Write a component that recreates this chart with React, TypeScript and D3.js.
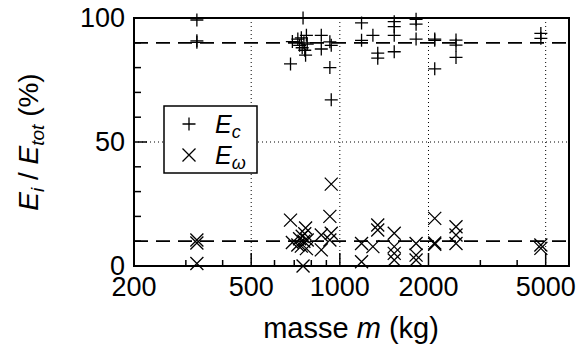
import React from "react";
import * as d3 from "d3";

// data: mass (kg), E_c share (%), E_omega share (%)
const masses = [327, 327, 327, 680, 690, 720, 730, 740, 745, 750, 755, 760, 765, 770, 775, 865, 865, 925, 925, 935, 935, 1185, 1185, 1295, 1345, 1345, 1530, 1530, 1530, 1530, 1815, 1815, 1815, 2100, 2100, 2100, 2480, 2480, 2480, 4815, 4815];
const ecValues = [99.2, 90.8, 90.2, 81.5, 90.5, 91.5, 89, 92, 88, 100, 90, 87, 85, 93, 89.5, 93, 87.5, 90.4, 80, 67, 89, 98, 91, 93, 85.8, 83.8, 98.5, 96.5, 93, 86.4, 99.5, 97.5, 91.5, 91.5, 91, 79.5, 91.1, 89.1, 84.1, 93.8, 91.8];
const ewValues = [1, 9.3, 10.5, 18.5, 9.5, 8.5, 11, 8, 12, 0, 10, 13, 15.3, 7, 10.5, 6.5, 12.5, 10.5, 20, 33, 13.2, 1.7, 9.1, 7.8, 14.5, 16.5, 2.4, 5.1, 7.8, 13.2, 2.4, 4.4, 9.1, 8.8, 9.3, 19.2, 9.1, 12.5, 15.8, 7.1, 8.5];

const xMajorTicks = [200, 500, 1000, 2000, 5000];
const xMinorTicks = [300, 400, 600, 700, 800, 900, 3000, 4000];
const yMajorTicks = [0, 50, 100];
const yMinorTicks = [10, 20, 30, 40, 60, 70, 80, 90];
const xGrid = [500, 1000, 2000, 5000];
const yGrid = [50];
const refLines = [90, 10];

const W = 581, H = 349;
const L = 134, R = 569, T = 18, B = 266;
const FONT = "'Liberation Sans', Arial, Helvetica, sans-serif";

export default function App() {
  const x = d3.scaleLog().domain([200, 6000]).range([L, R]);
  const y = d3.scaleLinear().domain([0, 100]).range([B, T]);
  const s = 6.5;
  const plus = (cx: number, cy: number) => `M${cx - s},${cy}H${cx + s}M${cx},${cy - s}V${cy + s}`;
  const cross = (cx: number, cy: number) => `M${cx - s},${cy - s}L${cx + s},${cy + s}M${cx - s},${cy + s}L${cx + s},${cy - s}`;
  return (
    <svg width={W} height={H} style={{ position: "absolute", left: 0, top: 0, background: "#fff" }} fontFamily={FONT}>
      {/* grid */}
      {xGrid.map((v) => (
        <line key={"gx" + v} x1={x(v)} x2={x(v)} y1={T} y2={B} stroke="#000" strokeWidth={1} strokeDasharray="1,3" />
      ))}
      {yGrid.map((v) => (
        <line key={"gy" + v} x1={L} x2={R} y1={y(v)} y2={y(v)} stroke="#000" strokeWidth={1} strokeDasharray="1,3" />
      ))}
      {/* reference dashed lines */}
      {refLines.map((v) => (
        <line key={"r" + v} x1={L} x2={R} y1={y(v)} y2={y(v)} stroke="#000" strokeWidth={1.8} strokeDasharray="14,8" />
      ))}
      {/* ticks */}
      {xMajorTicks.map((v) => (
        <line key={"xt" + v} x1={x(v)} x2={x(v)} y1={B} y2={B - 13} stroke="#000" strokeWidth={1.5} />
      ))}
      {xMinorTicks.map((v) => (
        <line key={"xm" + v} x1={x(v)} x2={x(v)} y1={B} y2={B - 6} stroke="#000" strokeWidth={1.5} />
      ))}
      {yMajorTicks.map((v) => (
        <line key={"yt" + v} x1={L} x2={L + 13} y1={y(v)} y2={y(v)} stroke="#000" strokeWidth={1.5} />
      ))}
      {yMinorTicks.map((v) => (
        <line key={"ym" + v} x1={L} x2={L + 7} y1={y(v)} y2={y(v)} stroke="#000" strokeWidth={1.5} />
      ))}
      {/* data */}
      {masses.map((m, i) => (
        <path key={"c" + i} d={plus(x(m), y(ecValues[i]))} stroke="#000" strokeWidth={1.3} fill="none" />
      ))}
      {masses.map((m, i) => (
        <path key={"w" + i} d={cross(x(m), y(ewValues[i]))} stroke="#000" strokeWidth={1.3} fill="none" />
      ))}
      {/* frame */}
      <rect x={L} y={T} width={R - L} height={B - T} fill="none" stroke="#000" strokeWidth={2} />
      {/* tick labels */}
      {xMajorTicks.map((v) => (
        <text key={"xl" + v} x={x(v)} y={296} textAnchor="middle" fontSize={27}>{v}</text>
      ))}
      {yMajorTicks.map((v) => (
        <text key={"yl" + v} x={125} y={y(v) + 9} textAnchor="end" fontSize={27}>{v}</text>
      ))}
      {/* axis labels */}
      <text x={351} y={338} textAnchor="middle" fontSize={29}>
        masse <tspan fontStyle="italic">m</tspan> (kg)
      </text>
      <text transform="translate(38,142) rotate(-90)" textAnchor="middle" fontSize={28}>
        <tspan fontStyle="italic">E</tspan>
        <tspan fontStyle="italic" fontSize={19} dy={6}>i</tspan>
        <tspan dy={-6}> / </tspan>
        <tspan fontStyle="italic">E</tspan>
        <tspan fontStyle="italic" fontSize={19} dy={6}>tot</tspan>
        <tspan dy={-6}> (%)</tspan>
      </text>
      {/* legend */}
      <rect x={164} y={106} width={93} height={67} fill="#fff" stroke="#000" strokeWidth={1.5} />
      <path d={plus(189, 124)} stroke="#000" strokeWidth={1.3} fill="none" />
      <path d={cross(189, 155)} stroke="#000" strokeWidth={1.3} fill="none" />
      <text x={215} y={133} fontSize={25}>
        <tspan fontStyle="italic">E</tspan>
        <tspan fontStyle="italic" fontSize={18} dy={5}>c</tspan>
      </text>
      <text x={215} y={164} fontSize={25}>
        <tspan fontStyle="italic">E</tspan>
        <tspan fontStyle="italic" fontSize={18} dy={5}>ω</tspan>
      </text>
    </svg>
  );
}
